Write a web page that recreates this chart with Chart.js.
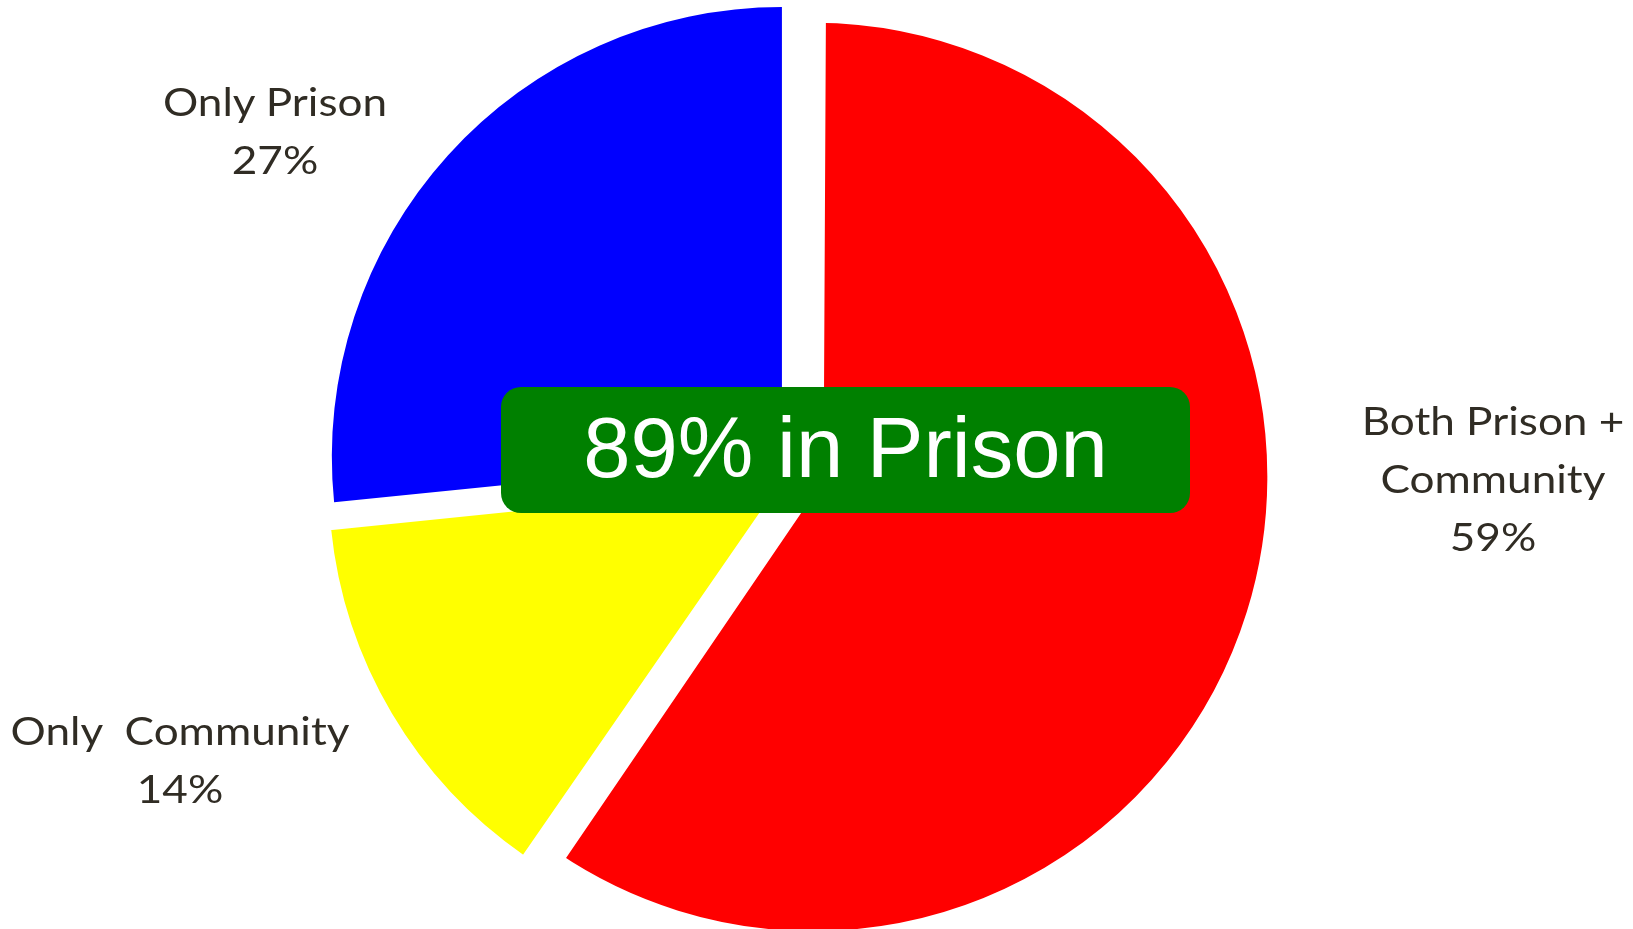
<!DOCTYPE html>
<html>
<head>
<meta charset="utf-8">
<script src="https://cdn.jsdelivr.net/npm/chart.js@4.4.1/dist/chart.umd.min.js"></script>
<style>
  html, body { margin: 0; padding: 0; background: #fff; }
  #wrap { position: relative; width: 1633px; height: 929px; overflow: hidden; }
  .lbl {
    position: absolute; width: 600px; text-align: center; white-space: pre;
    font-family: Lato, "Open Sans", sans-serif; font-size: 38px; line-height: 58px;
    color: #302c24; transform: scaleX(1.16); transform-origin: center top;
  }
  #badge {
    position: absolute; left: 501px; top: 387px; width: 689px; height: 126px;
    background: #008000; border-radius: 20px; color: #fff; text-align: center;
    font-family: "Liberation Sans", Arial, sans-serif; font-size: 85px; line-height: 122px;
  }
</style>
</head>
<body>
<div id="wrap">
  <canvas id="pie"></canvas>
  <div class="lbl" id="lbl0"></div>
  <div class="lbl" id="lbl1"></div>
  <div class="lbl" id="lbl2"></div>
  <div id="badge">89% in Prison</div>
</div>
<script>
// slices, clockwise from 12 o'clock
const categories = ['Both Prison +\nCommunity', 'Only  Community', 'Only Prison'];
const shares = [59.6, 13.8, 26.6];
const shareLabels = ['59%', '14%', '27%'];
const sliceColors = ['#ff0000', '#ffff00', '#0000ff'];

// explosion of each slice (offset) and a white rim that trims the big slice back to size
const sliceOffsets = [59, 79, 92];
const sliceRims = [21, 2.8, 0];

// where the label blocks sit (center x, top y)
const labelSpots = [[1493, 391], [180, 701], [275, 72]];

labelSpots.forEach((p, i) => {
  const el = document.getElementById('lbl' + i);
  el.textContent = categories[i] + '\n' + shareLabels[i];
  el.style.left = (p[0] - 300) + 'px';
  el.style.top = p[1] + 'px';
});

const canvas = document.getElementById('pie');
canvas.width = 1633;
canvas.height = 929;

new Chart(canvas.getContext('2d'), {
  type: 'pie',
  data: {
    labels: categories,
    datasets: [{
      data: shares,
      backgroundColor: sliceColors,
      borderColor: '#ffffff',
      borderWidth: sliceRims,
      borderAlign: 'center',
      offset: sliceOffsets,
      hoverOffset: 0
    }]
  },
  options: {
    responsive: false,
    animation: false,
    events: [],
    radius: 450,
    layout: { padding: { left: 0, right: 35, top: 16, bottom: 0 } },
    plugins: {
      legend: { display: false },
      tooltip: { enabled: false }
    }
  }
});
</script>
</body>
</html>
